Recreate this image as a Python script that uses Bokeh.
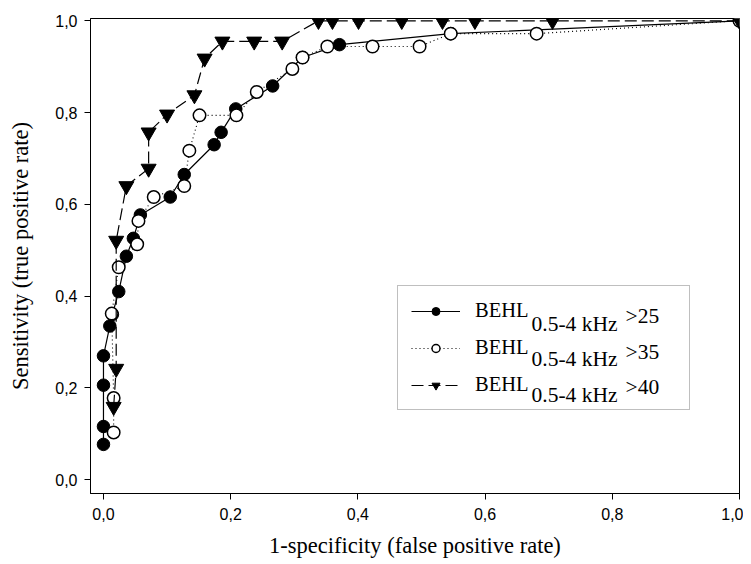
from bokeh.plotting import figure
from bokeh.models import (Range1d, FixedTicker, CustomJSTickFormatter, Legend,
                          LegendItem)
from bokeh.core.properties import value
from bokeh.embed import file_html
from bokeh.resources import INLINE

# ---- data ----
fpr_25 = [0.000, 0.000, 0.000, 0.000, 0.010, 0.014, 0.024, 0.036, 0.047, 0.058,
          0.105, 0.127, 0.174, 0.185, 0.208, 0.266, 0.313, 0.371, 0.546, 1.000]
tpr_25 = [0.077, 0.116, 0.206, 0.270, 0.335, 0.360, 0.410, 0.487, 0.526, 0.577,
          0.616, 0.665, 0.730, 0.757, 0.808, 0.858, 0.920, 0.948, 0.972, 1.000]

fpr_35 = [0.016, 0.016, 0.013, 0.024, 0.053, 0.055, 0.079, 0.127, 0.135, 0.151,
          0.209, 0.241, 0.297, 0.313, 0.352, 0.423, 0.497, 0.546, 0.681, 1.000]
tpr_35 = [0.103, 0.178, 0.362, 0.463, 0.513, 0.564, 0.616, 0.640, 0.717, 0.794,
          0.794, 0.845, 0.895, 0.920, 0.944, 0.944, 0.944, 0.972, 0.972, 1.000]

fpr_40 = [0.016, 0.020, 0.020, 0.036, 0.071, 0.071, 0.100, 0.143, 0.159, 0.187,
          0.237, 0.281, 0.338, 0.360, 0.401, 0.469, 0.533, 0.584, 0.706, 1.000]
tpr_40 = [0.159, 0.242, 0.521, 0.640, 0.678, 0.757, 0.796, 0.838, 0.918, 0.955,
          0.955, 0.955, 1.000, 1.000, 1.000, 1.000, 1.000, 1.000, 1.000, 1.000]

tick_values = [0.0, 0.2, 0.4, 0.6, 0.8, 1.0]
series_labels = ["BEHL", "BEHL", "BEHL"]
sub_label = "0.5-4 kHz"
sup_labels = [">25", ">35", ">40"]
x_title = "1-specificity (false positive rate)"
y_title = "Sensitivity (true positive rate)"

SERIF = "Liberation Serif"
SANS = "Liberation Sans"

# layout (pixels)
W, H = 743, 560
BL, BR, BT, BB = 90, 4, 18, 60
FW, FH = W - BL - BR, H - BT - BB
X0, X1 = -0.0204, 1.0
Y0, Y1 = -0.030, 1.005

p = figure(width=W, height=H,
           x_range=Range1d(X0, X1), y_range=Range1d(Y0, Y1),
           output_backend="svg", toolbar_location=None,
           min_border_left=BL, min_border_right=BR,
           min_border_top=BT, min_border_bottom=BB)

p.background_fill_color = "white"
p.border_fill_color = "white"
p.outline_line_color = "black"
p.outline_line_width = 1
p.xgrid.visible = False
p.ygrid.visible = False

fmt = CustomJSTickFormatter(code="return tick.toFixed(1).replace('.', ',');")
for ax in (p.xaxis[0], p.yaxis[0]):
    ax.ticker = FixedTicker(ticks=tick_values)
    ax.formatter = fmt
    ax.major_tick_out = 6
    ax.major_tick_in = 0
    ax.minor_tick_line_color = None
    ax.axis_line_color = "black"
    ax.major_tick_line_color = "black"
    ax.major_label_text_font = SANS
    ax.major_label_text_font_size = "16px"
    ax.major_label_text_color = "black"
    ax.axis_label_text_font = SERIF
    ax.axis_label_text_font_size = "22.5px"
    ax.axis_label_text_font_style = "normal"
    ax.axis_label_text_color = "black"

p.xaxis.axis_label = x_title
p.yaxis.axis_label = y_title
p.xaxis.major_label_standoff = 8
p.yaxis.major_label_standoff = 7
p.xaxis.axis_label_standoff = 10
p.yaxis.axis_label_standoff = 19

# series 1: filled circles, solid
l1 = p.line(fpr_25, tpr_25, line_color="black", line_width=1.2)
s1 = p.scatter(fpr_25, tpr_25, marker="circle", size=12.5,
               fill_color="black", line_color="black", line_width=1)
# series 2: open circles, dotted
l2 = p.line(fpr_35, tpr_35, line_color="black", line_width=1.1, line_dash="1 3")
s2 = p.scatter(fpr_35, tpr_35, marker="circle", size=12.5,
               fill_color="white", line_color="black", line_width=1.5)
# series 3: inverted triangles, dashed
l3 = p.line(fpr_40, tpr_40, line_color="black", line_width=1.2, line_dash="12 5")
s3 = p.scatter(fpr_40, tpr_40, marker="inverted_triangle", size=15,
               fill_color="black", line_color="black", line_width=1)

items = [LegendItem(label=series_labels[0], renderers=[l1, s1]),
         LegendItem(label=series_labels[1], renderers=[l2, s2]),
         LegendItem(label=series_labels[2], renderers=[l3, s3])]
legend = Legend(items=items, location=(307, 83), padding=13, spacing=14,
                glyph_width=49, glyph_height=20, label_height=20,
                label_width=201, label_standoff=15, margin=0,
                label_text_font=SERIF, label_text_font_size="20.5px",
                label_text_color="black",
                border_line_color="#7f7f7f", border_line_width=1.5,
                background_fill_alpha=0)
p.add_layout(legend)


# legend subscript / superscript texts, placed by pixel position in the canvas
def px_to_x(px):
    return X0 + (px - BL) / FW * (X1 - X0)


def py_to_y(py):
    return Y1 - (py - BT) / FH * (Y1 - Y0)


row_step = 36
sub_x = [px_to_x(531)] * 3
sub_y = [py_to_y(328 + row_step * i) for i in range(3)]
sup_x = [px_to_x(625)] * 3
sup_y = [py_to_y(320 + row_step * i) for i in range(3)]

p.text(x=sub_x, y=sub_y, text=[sub_label] * 3, text_font=value(SERIF),
       text_font_size="21.5px", text_baseline="alphabetic", text_align="left",
       text_color="black")
p.text(x=sup_x, y=sup_y, text=sup_labels, text_font=value(SERIF),
       text_font_size="21.5px", text_baseline="alphabetic", text_align="left",
       text_color="black")

open("out.html", "w").write(file_html(p, INLINE))
